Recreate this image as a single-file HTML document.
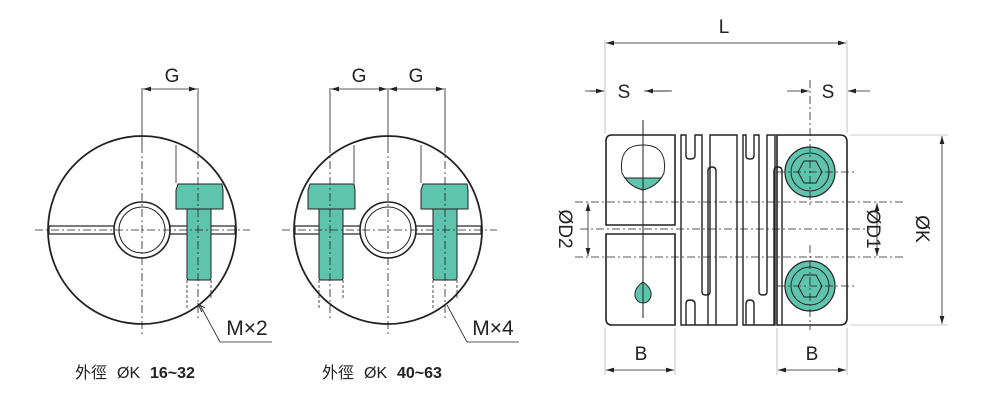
<!DOCTYPE html>
<html><head><meta charset="utf-8"><style>body{margin:0;background:#fff}svg{display:block}</style></head><body>
<svg width="1000" height="400" viewBox="0 0 1000 400" xmlns="http://www.w3.org/2000/svg" font-family="Liberation Sans, Noto Sans CJK TC, sans-serif">
<defs><marker id="a" viewBox="0 0 10 6" refX="10" refY="3" markerWidth="10" markerHeight="6" orient="auto-start-reverse"><path d="M0,0L10,3L0,6z" fill="#222"/></marker></defs>
<g stroke="#222" fill="none">
<circle cx="142" cy="230" r="94" stroke-width="1.8"/>
<rect x="49" y="226" width="186" height="8" fill="#fff" stroke-width="1.2"/>
<circle cx="142" cy="230" r="28" fill="#fff" stroke-width="1.6"/>
<circle cx="142" cy="230" r="23" stroke-width="1"/>
<path d="M178,184L222,184L223,190L223,209L176,209L176,190Z" fill="#5ec4ad" stroke-width="1"/>
<path d="M187,209L211,209L211,278Q211,280 209,280L189,280Q187,280 187,278Z" fill="#5ec4ad" stroke-width="1"/>
<g stroke-width="0.8">
<path d="M176,145V183M198,88V145M142,88V145"/>
<path d="M143,89H197" marker-start="url(#a)" marker-end="url(#a)"/>
<path d="M200,305L220,342H272"/>
</g>
<g stroke-width="0.8" stroke-dasharray="8,3,2,3">
<path d="M142,145V335M35,230H250M198,145V320"/>
</g>
<g stroke-width="0.8" stroke-dasharray="3,2"><path d="M187,280V310M211,280V300"/></g>
<path d="M202,312L198,304L205,308" stroke-width="1"/>
<circle cx="388" cy="230" r="94" stroke-width="1.8"/>
<rect x="295" y="226" width="186" height="8" fill="#fff" stroke-width="1.2"/>
<circle cx="388" cy="230" r="28" fill="#fff" stroke-width="1.6"/>
<circle cx="388" cy="230" r="23" stroke-width="1"/>
<path d="M310,184L354,184L355,190L355,209L308,209L308,190Z" fill="#5ec4ad" stroke-width="1"/>
<path d="M319,209L343,209L343,278Q343,280 341,280L321,280Q319,280 319,278Z" fill="#5ec4ad" stroke-width="1"/>
<path d="M423,184L467,184L468,190L468,209L421,209L421,190Z" fill="#5ec4ad" stroke-width="1"/>
<path d="M433,209L457,209L457,278Q457,280 455,280L435,280Q433,280 433,278Z" fill="#5ec4ad" stroke-width="1"/>
<g stroke-width="0.8">
<path d="M330,88V145M388,88V145M445,88V145M354,145V183M421,145V183"/>
<path d="M331,89H387" marker-start="url(#a)" marker-end="url(#a)"/>
<path d="M389,89H444" marker-start="url(#a)" marker-end="url(#a)"/>
<path d="M447,305L467,342H519"/>
</g>
<g stroke-width="0.8" stroke-dasharray="8,3,2,3">
<path d="M388,145V335M282,230H497M330,145V320M445,145V320"/>
</g>
<g stroke-width="0.8" stroke-dasharray="3,2"><path d="M319,280V310M343,280V300M433,280V310M457,280V300"/></g>
<g stroke-width="1.6">
<path d="M612,135H675V225H606V141Q606,135 612,135Z"/>
<path d="M606,234H675V325H612Q606,325 606,319Z"/>
<path d="M777,135H840Q847,135 847,142V318Q847,325 840,325H777Z"/>
<path d="M681,135V325H737V135H710V292Q710,295 706,295Q702,295 702,292V135H695V156Q695,159 690,159Q686,159 686,156V135Z" stroke-width="1.4"/>
<path d="M686,325V304Q686,300 690,300Q695,300 695,304V325M716,325V171Q716,167 712,167Q708,167 708,171V325" stroke-width="1.4"/>
<path d="M743,135V325H775V135H767V292Q767,295 763,295Q759,295 759,292V135H754V156Q754,159 750,159Q746,159 746,156V135Z" stroke-width="1.4"/>
<path d="M746,325V304Q746,300 750,300Q754,300 754,304V325M782,325V171Q782,167 778,167Q774,167 774,171V325" stroke-width="1.4"/>
</g>
<path d="M622,173Q618,145 643,145Q668,145 664,173Q658,186 643,190Q628,186 622,173Z" stroke-width="1"/>
<path d="M625,178H661Q655,187 643,190Q631,187 625,178Z" fill="#5ec4ad" stroke-width="1"/>
<path d="M643,282Q652,288 651,296Q649,303 643,303Q637,303 635,296Q634,288 643,282Z" fill="#5ec4ad" stroke-width="1"/>
<path d="M643,120V318" stroke-width="1"/>
<circle cx="810" cy="172" r="25" fill="#5ec4ad" stroke-width="1.2"/><circle cx="810" cy="172" r="19" stroke-width="1"/>
<path d="M798,172L804,161H816L822,172L816,183H804Z" stroke-width="1"/>
<circle cx="810" cy="286" r="25" fill="#5ec4ad" stroke-width="1.2"/><circle cx="810" cy="286" r="19" stroke-width="1"/>
<path d="M798,286L804,275H816L822,286L816,297H804Z" stroke-width="1"/>
<g stroke-width="0.8" stroke-dasharray="8,3,2,3">
<path d="M580,229H870M575,202H905M575,257H905M810,80V205M810,245V330M777,172H855M777,286H855"/>
</g>
<g stroke-width="0.6" stroke="#999">
<path d="M605,40V133M847,40V133M605,328V375M675,328V375M777,328V375M847,328V375M850,135H948M850,325H948"/>
</g>
<g stroke-width="0.8">
<path d="M606,43H846" marker-start="url(#a)" marker-end="url(#a)"/>
<path d="M585,91H604M644,91H672" />
<path d="M590,91H604" marker-end="url(#a)"/><path d="M670,91H645" marker-end="url(#a)"/>
<path d="M787,91H809" marker-end="url(#a)"/><path d="M870,91H848" marker-end="url(#a)"/>
<path d="M606,370H674" marker-start="url(#a)" marker-end="url(#a)"/>
<path d="M778,370H846" marker-start="url(#a)" marker-end="url(#a)"/>
<path d="M588,203V256" marker-start="url(#a)" marker-end="url(#a)"/>
<path d="M877,203V256" marker-start="url(#a)" marker-end="url(#a)"/>
<path d="M942,136V324" marker-start="url(#a)" marker-end="url(#a)"/>
</g>
</g>
<g fill="#222" font-size="19">
<text x="172" y="82" text-anchor="middle">G</text>
<text x="359" y="82" text-anchor="middle">G</text>
<text x="416" y="82" text-anchor="middle">G</text>
<text x="247" y="335" text-anchor="middle" font-size="21">M×2</text>
<text x="493" y="335" text-anchor="middle" font-size="21">M×4</text>
<text x="724" y="33" text-anchor="middle">L</text>
<text x="624" y="98" text-anchor="middle">S</text>
<text x="828" y="98" text-anchor="middle">S</text>
<text x="641" y="360" text-anchor="middle">B</text>
<text x="812" y="360" text-anchor="middle">B</text>
<text transform="translate(559,229) rotate(90)" text-anchor="middle">ØD2</text>
<text transform="translate(867,229) rotate(90)" text-anchor="middle">ØD1</text>
<text transform="translate(916,229) rotate(90)" text-anchor="middle">ØK</text>
<g font-size="16">
<text x="75" y="378">外徑</text><text x="117" y="378">ØK</text><text x="150" y="378" font-weight="bold">16~32</text>
<text x="322" y="378">外徑</text><text x="364" y="378">ØK</text><text x="397" y="378" font-weight="bold">40~63</text>
</g>
</g>
</svg>
</body></html>
